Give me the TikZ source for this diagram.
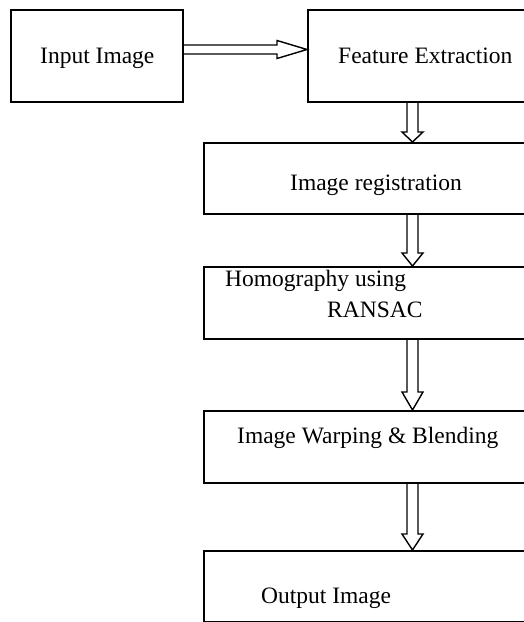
\documentclass[tikz,border=0pt]{standalone}
\usepackage{fontspec}
\setmainfont{Liberation Serif}
\usetikzlibrary{calc}
\tikzset{
  blockbox/.style={draw, line width=1.8pt, rectangle, inner sep=0pt, anchor=north west},
  lbl/.style={anchor=base west, inner sep=0pt, font=\fontsize{23.5}{28}\selectfont},
  arrowline/.style={draw, line width=1.4pt, line join=miter}
}
\newcommand\vblockarrow[3]{%
  \draw[arrowline] ($(#1.south -| ax)+(-5.5,0)$) -- ($(#2.north -| ax)+(-5.5,-#3)$)
    -- ($(#2.north -| ax)+(-10.5,-#3)$) -- (#2.north -| ax)
    -- ($(#2.north -| ax)+(10.5,-#3)$) -- ($(#2.north -| ax)+(5.5,-#3)$)
    -- ($(#1.south -| ax)+(5.5,0)$);}
\begin{document}
\begin{tikzpicture}[x=1pt,y=-1pt]
\clip (0,0) rectangle (524,622);
\fill[white] (0,0) rectangle (524,622);
% boxes
\node[blockbox, minimum width=172pt, minimum height=92pt] (in) at (10,9) {};
\node[blockbox, minimum width=230pt, minimum height=92pt] (fe) at (307,9) {};
\node[blockbox, minimum width=330pt, minimum height=71pt] (reg) at (203,142) {};
\node[blockbox, minimum width=330pt, minimum height=72pt] (hom) at (203,266) {};
\node[blockbox, minimum width=330pt, minimum height=72pt] (warp) at (203,410) {};
\node[blockbox, minimum width=330pt, minimum height=71pt] (out) at (203,550) {};
% labels
\node[lbl] (tin) at (40,63) {Input Image};
\node[lbl] (tfe) at (338,63) {Feature Extraction};
\node[lbl] (treg) at (290,190) {Image registration};
\node[lbl] (thom1) at (225,286) {Homography using};
\node[lbl] (thom2) at (327,317) {RANSAC};
\node[lbl] (twarp) at (237,443) {Image Warping \& Blending};
\node[lbl] (tout) at (261,603) {Output Image};
% guide coordinates
\coordinate (ax) at (412.5,0);
\coordinate (ay) at (0,49.5);
% horizontal block arrow
\draw[arrowline] ($(in.east |- ay)+(0,-4.5)$) -- ($(fe.west |- ay)+(-30,-4.5)$)
  -- ($(fe.west |- ay)+(-30,-9)$) -- (fe.west |- ay)
  -- ($(fe.west |- ay)+(-30,9)$) -- ($(fe.west |- ay)+(-30,4.5)$)
  -- ($(in.east |- ay)+(0,4.5)$);
% vertical block arrows
\vblockarrow{fe}{reg}{10}
\vblockarrow{reg}{hom}{13}
\vblockarrow{hom}{warp}{18}
\vblockarrow{warp}{out}{16}
\end{tikzpicture}
\end{document}
